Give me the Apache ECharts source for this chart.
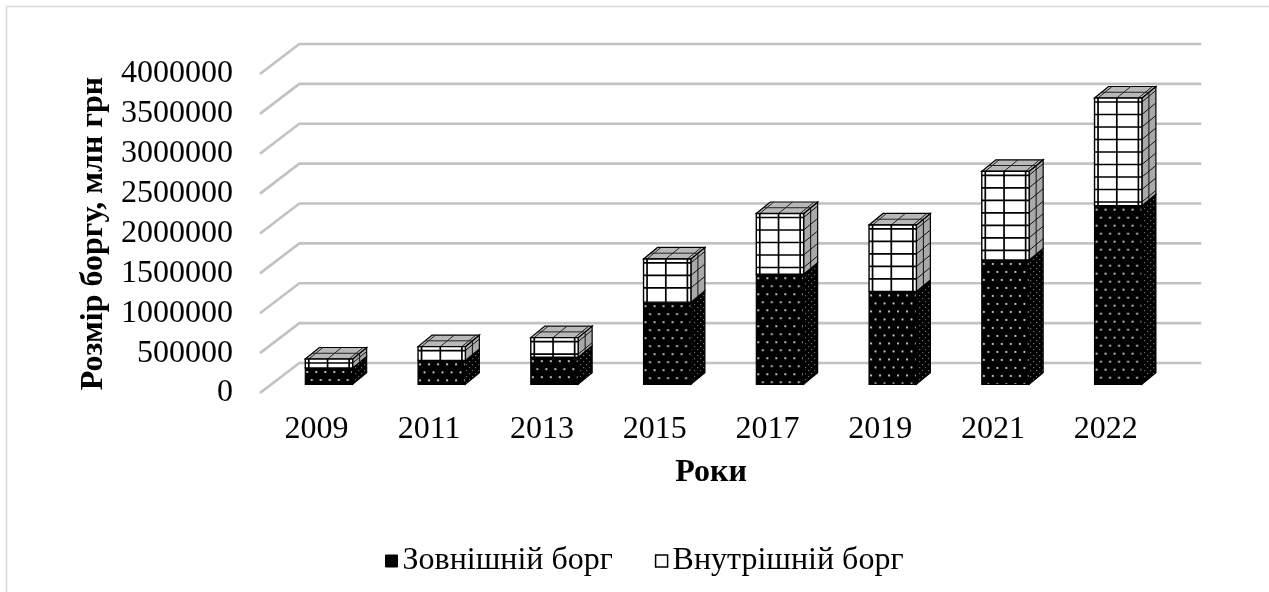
<!DOCTYPE html>
<html>
<head>
<meta charset="utf-8">
<script src="https://cdn.jsdelivr.net/npm/echarts@6/dist/echarts.min.js"></script>
<style>
html,body{margin:0;padding:0;background:#fff;}
#chart{width:1269px;height:592px;}
</style>
</head>
<body>
<div id="chart"></div>
<script>
// ---- data (млн грн) ----
const years = ['2009', '2011', '2013', '2015', '2017', '2019', '2021', '2022'];
const externalDebt = [205000, 300000, 340000, 1030000, 1380000, 1165000, 1560000, 2240000];
const internalDebt = [112000, 173000, 245000, 542000, 762000, 833000, 1111000, 1350000];
const yTicks = [0, 500000, 1000000, 1500000, 2000000, 2500000, 3000000, 3500000, 4000000];
const seriesNames = ['Зовнішній борг', 'Внутрішній борг'];
const axisTitleY = 'Розмір боргу, млн грн';
const axisTitleX = 'Роки';

// ---- 3D look offsets ----
const FRONT = [12.6, -8.7];   // bar front plane relative to floor front edge
const DEPTH = [14, -11.5];    // bar depth
const WALL = [39.3, -30];     // back wall relative to floor front edge
const FONT = "'Liberation Serif', 'Times New Roman', serif";

function makeCanvas(w, h, draw) {
  const c = document.createElement('canvas');
  c.width = w; c.height = h;
  draw(c.getContext('2d'));
  return c;
}
const dotsFront = makeCanvas(18, 16, g => {
  g.fillStyle = '#000'; g.fillRect(0, 0, 18, 16);
  g.fillStyle = '#e8e8e8';
  [[2, 4], [11, 4], [6.5, 12], [15.5, 12]].forEach(p => { g.beginPath(); g.arc(p[0], p[1], 1.1, 0, Math.PI * 2); g.fill(); });
});
const dotsSide = makeCanvas(6, 6, g => {
  g.fillStyle = '#000'; g.fillRect(0, 0, 6, 6);
  g.fillStyle = '#6a6a6a';
  g.fillRect(1, 1, 1.2, 1.2); g.fillRect(4, 4, 1.2, 1.2);
});

function pathFromSegs(segs) {
  return segs.map(s => 'M' + s[0] + ' ' + s[1] + 'L' + s[2] + ' ' + s[3]).join('');
}

function geom(api, i, vLow, vHigh) {
  const p0 = api.coord([i, vLow]);
  const p1 = api.coord([i, vHigh]);
  const w = api.size([1, 0])[0] * 0.42;
  const xL = p0[0] + FRONT[0] - w / 2;
  return { xL: xL, xR: xL + w, w: w, yB: p0[1] + FRONT[1], yT: p1[1] + FRONT[1] };
}

function renderExternal(params, api) {
  const i = api.value(0);
  const g = geom(api, i, 0, api.value(1));
  const dx = DEPTH[0], dy = DEPTH[1];
  return {
    type: 'group',
    children: [
      { type: 'polygon',
        shape: { points: [[g.xR, g.yT], [g.xR + dx, g.yT + dy], [g.xR + dx, g.yB + dy], [g.xR, g.yB]] },
        style: { fill: { image: dotsSide, repeat: 'repeat' }, stroke: '#000', lineWidth: 1.2 } },
      { type: 'rect',
        shape: { x: g.xL, y: g.yT, width: g.w, height: g.yB - g.yT },
        style: { fill: { image: dotsFront, repeat: 'repeat', x: g.xL, y: g.yT }, stroke: '#000', lineWidth: 1.2 } }
    ]
  };
}

function renderInternal(params, api) {
  const i = api.value(0);
  const g = geom(api, i, api.value(1), api.value(1) + api.value(2));
  const dx = DEPTH[0], dy = DEPTH[1];
  const vx = [g.xL + 3.5, g.xL + g.w * 0.47, g.xR - 3.5];
  const hy = [];
  for (let y = g.yT + 4; y < g.yB - 3; y += 12.5) hy.push(y);
  const frontSegs = [];
  vx.forEach(x => frontSegs.push([x, g.yT, x, g.yB]));
  hy.forEach(y => frontSegs.push([g.xL, y, g.xR, y]));
  const sideSegs = [];
  hy.forEach(y => sideSegs.push([g.xR, y, g.xR + dx, y + dy]));
  sideSegs.push([g.xR + dx * 0.5, g.yT + dy * 0.5, g.xR + dx * 0.5, g.yB + dy * 0.5]);
  const topSegs = [];
  vx.forEach(x => topSegs.push([x, g.yT, x + dx, g.yT + dy]));
  topSegs.push([g.xL + dx * 0.5, g.yT + dy * 0.5, g.xR + dx * 0.5, g.yT + dy * 0.5]);
  return {
    type: 'group',
    children: [
      { type: 'polygon',
        shape: { points: [[g.xR, g.yT], [g.xR + dx, g.yT + dy], [g.xR + dx, g.yB + dy], [g.xR, g.yB]] },
        style: { fill: '#a9a9a9', stroke: '#000', lineWidth: 1.2 } },
      { type: 'path', shape: { pathData: pathFromSegs(sideSegs) },
        style: { fill: null, stroke: '#111', lineWidth: 1 } },
      { type: 'polygon',
        shape: { points: [[g.xL, g.yT], [g.xR, g.yT], [g.xR + dx, g.yT + dy], [g.xL + dx, g.yT + dy]] },
        style: { fill: '#b8b8b8', stroke: '#000', lineWidth: 1.2 } },
      { type: 'path', shape: { pathData: pathFromSegs(topSegs) },
        style: { fill: null, stroke: '#222', lineWidth: 1 } },
      { type: 'rect',
        shape: { x: g.xL, y: g.yT, width: g.w, height: g.yB - g.yT },
        style: { fill: '#fff', stroke: '#000', lineWidth: 1.4 } },
      { type: 'path', shape: { pathData: pathFromSegs(frontSegs) },
        style: { fill: null, stroke: '#000', lineWidth: 1.7 } }
    ]
  };
}

function renderWall(params, api) {
  const cs = params.coordSys;
  const p = api.coord([0, api.value(1)]);
  const x0 = cs.x, y = p[1];
  return {
    type: 'polyline',
    shape: { points: [[x0, y], [x0 + WALL[0], y + WALL[1]], [x0 + cs.width + WALL[0], y + WALL[1]]] },
    style: { fill: null, stroke: '#c2c2c2', lineWidth: 2.6 }
  };
}

const chart = echarts.init(document.getElementById('chart'), null, { renderer: 'canvas' });
chart.setOption({
  animation: false,
  backgroundColor: '#fff',
  textStyle: { fontFamily: FONT, color: '#000' },
  graphic: [{
    type: 'polyline', silent: true, z: -10,
    shape: { points: [[6.5, 700], [6.5, 6.5], [1500, 6.5]] },
    style: { fill: null, stroke: '#d9d9d9', lineWidth: 1.5 }
  }],
  grid: { left: 260, right: 107, top: 74, bottom: 199 },
  legend: {
    left: 380, top: 540,
    itemWidth: 12, itemHeight: 12, itemGap: 42,
    textStyle: { fontFamily: FONT, fontSize: 32, color: '#000' },
    data: [
      { name: seriesNames[0], icon: 'rect', itemStyle: { color: '#000', borderColor: '#000', borderWidth: 1 } },
      { name: seriesNames[1], icon: 'rect', itemStyle: { color: '#fff', borderColor: '#000', borderWidth: 1.5 } }
    ]
  },
  xAxis: {
    type: 'category',
    data: years,
    axisLine: { show: false },
    axisTick: { show: false },
    axisLabel: { fontFamily: FONT, fontSize: 32, color: '#000', margin: 21 },
    name: axisTitleX,
    nameLocation: 'middle',
    nameGap: 64,
    nameTextStyle: { fontFamily: FONT, fontSize: 32, fontWeight: 'bold', color: '#000' }
  },
  yAxis: {
    type: 'value',
    min: 0, max: 4000000, interval: 500000,
    axisLine: { show: false },
    axisTick: { show: false },
    splitLine: { show: false },
    axisLabel: { fontFamily: FONT, fontSize: 32, color: '#000', margin: 27, formatter: v => String(v) },
    name: axisTitleY,
    nameLocation: 'middle',
    nameRotate: 90,
    nameGap: 141,
    nameTextStyle: { fontFamily: FONT, fontSize: 32, fontWeight: 'bold', color: '#000' }
  },
  series: [
    {
      type: 'custom', name: '_wall', silent: true, z: 1,
      renderItem: renderWall,
      data: yTicks.map(v => [0, v]),
      encode: { x: 0, y: 1 }
    },
    {
      type: 'custom', name: seriesNames[0], z: 2,
      itemStyle: { color: '#000' },
      renderItem: renderExternal,
      data: years.map((y, i) => [i, externalDebt[i]]),
      encode: { x: 0, y: 1 }
    },
    {
      type: 'custom', name: seriesNames[1], z: 3,
      itemStyle: { color: '#fff' },
      renderItem: renderInternal,
      data: years.map((y, i) => [i, externalDebt[i], internalDebt[i]]),
      encode: { x: 0, y: 2 }
    }
  ]
});
</script>
</body>
</html>
